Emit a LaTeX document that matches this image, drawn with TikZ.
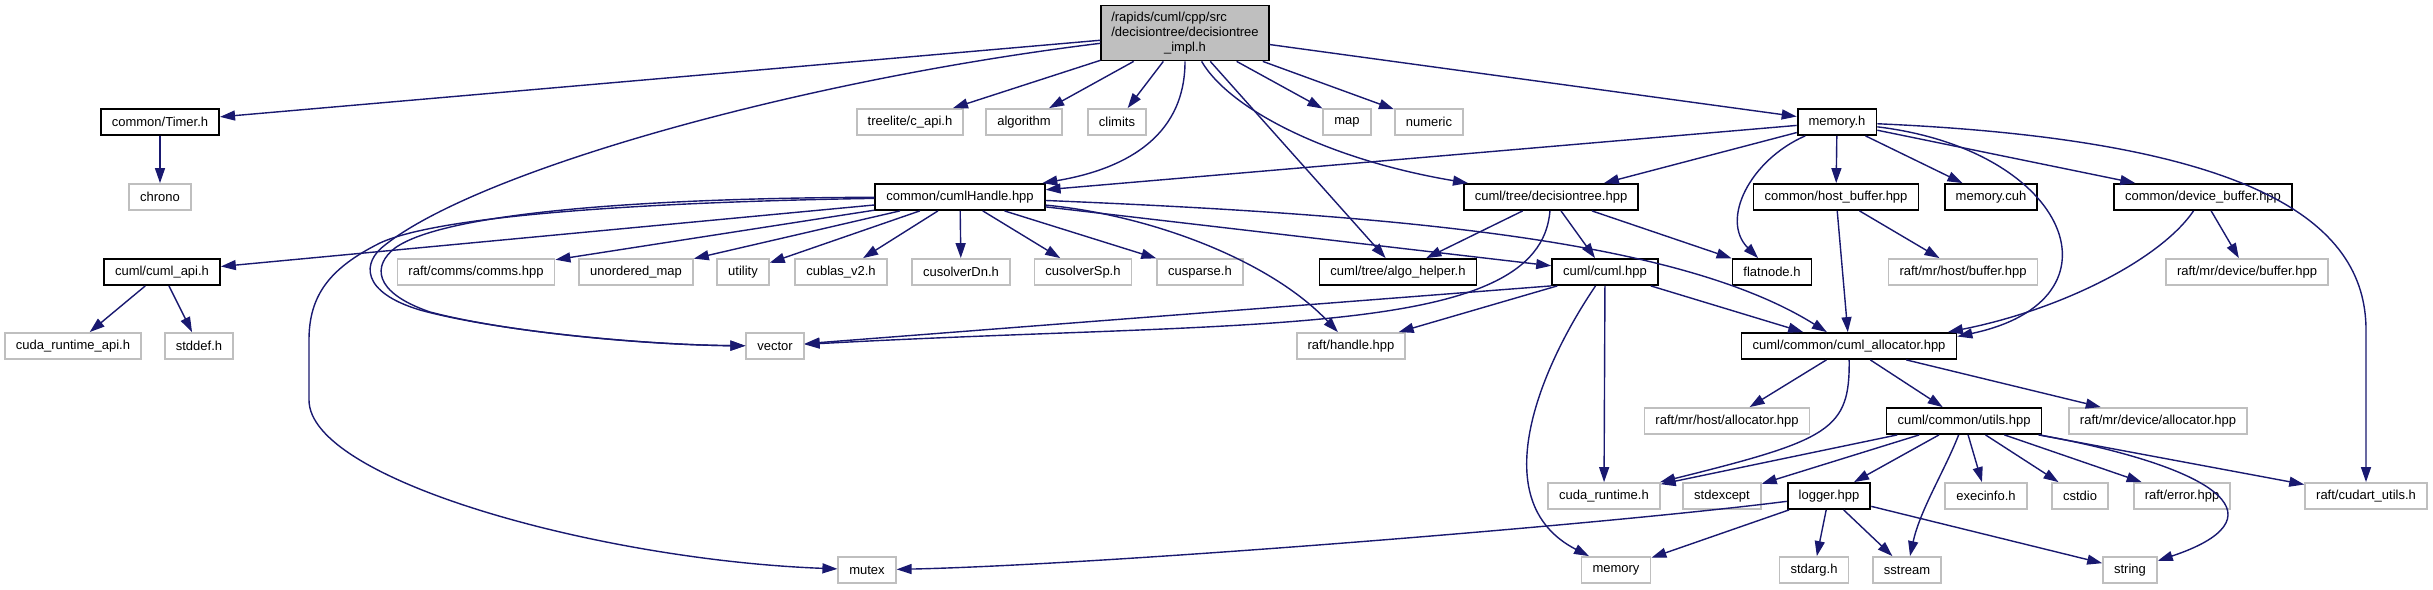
\documentclass[tikz,border=0pt]{standalone}
\usepackage{fontspec}
\setmainfont{Liberation Sans}
\usetikzlibrary{arrows.meta}
\definecolor{EdgeBlue}{RGB}{25,25,112}
\definecolor{ExtGray}{RGB}{191,191,191}

\begin{document}
\begin{tikzpicture}[
    x=1pt,
    y=-1pt,
    font=\fontsize{13}{15}\selectfont,
    hdr/.style={
        draw=black,
        line width=1.8pt,
        minimum height=26pt,
        inner xsep=11pt,
        inner ysep=0pt
    },
    ext/.style={
        draw=ExtGray,
        line width=1.8pt,
        minimum height=26pt,
        inner xsep=11pt,
        inner ysep=0pt
    },
    mainfile/.style={
        draw=black,
        line width=1.8pt,
        minimum height=55pt,
        inner xsep=10pt,
        inner ysep=0pt,
        fill=ExtGray
    },
    dep/.style={
        draw=EdgeBlue,
        line width=1.4pt,
        -{Triangle[length=15pt,width=10pt]}
    }
]

\fill[white] (0,0) rectangle (2433,589);
\useasboundingbox (0,0) rectangle (2433,589);

\node[mainfile] (root) at (1185,33) {\begin{tabular}{@{}l@{}}/rapids/cuml/cpp/src\\/decisiontree/decisiontree\\\multicolumn{1}{@{}c@{}}{\_impl.h}\end{tabular}};

\node[hdr] (timer) at (160,122) {common/Timer.h};
\node[ext] (capi) at (910,122) {treelite/c\_api.h};
\node[ext] (algorithm) at (1024,122) {algorithm};
\node[ext] (climits) at (1117,122) {climits};
\node[ext] (map) at (1347,122) {map};
\node[ext] (numeric) at (1429,122) {numeric};
\node[hdr] (memh) at (1837,122) {memory.h};

\node[ext] (chrono) at (160,197) {chrono};
\node[hdr] (handle) at (960,197) {common/cumlHandle.hpp};
\node[hdr] (dtree) at (1551,197) {cuml/tree/decisiontree.hpp};
\node[hdr] (hostbuf) at (1836,197) {common/host\_buffer.hpp};
\node[hdr] (memcuh) at (1991,197) {memory.cuh};
\node[hdr] (devbuf) at (2203,197) {common/device\_buffer.hpp};

\node[hdr] (cumlapi) at (162,272) {cuml/cuml\_api.h};
\node[ext] (comms) at (476,272) {raft/comms/comms.hpp};
\node[ext] (umap) at (636,272) {unordered\_map};
\node[ext] (utility) at (743,272) {utility};
\node[ext] (cublas) at (841,272) {cublas\_v2.h};
\node[ext] (solverdn) at (961,272) {cusolverDn.h};
\node[ext] (solversp) at (1083,272) {cusolverSp.h};
\node[ext] (sparse) at (1200,272) {cusparse.h};
\node[hdr] (algoh) at (1398,272) {cuml/tree/algo\_helper.h};
\node[hdr] (cumlhpp) at (1605,272) {cuml/cuml.hpp};
\node[hdr] (flatnode) at (1772,272) {flatnode.h};
\node[ext] (hostmr) at (1963,272) {raft/mr/host/buffer.hpp};
\node[ext] (devmr) at (2247,272) {raft/mr/device/buffer.hpp};

\node[ext] (rtapi) at (73,346) {cuda\_runtime\_api.h};
\node[ext] (stddef) at (199,346) {stddef.h};
\node[ext] (vector) at (775,346) {vector};
\node[ext] (rafthandle) at (1351,346) {raft/handle.hpp};
\node[hdr] (alloc) at (1849,346) {cuml/common/cuml\_allocator.hpp};

\node[ext] (hostalloc) at (1727,421) {raft/mr/host/allocator.hpp};
\node[hdr] (utils) at (1964,421) {cuml/common/utils.hpp};
\node[ext] (devalloc) at (2158,421) {raft/mr/device/allocator.hpp};

\node[ext] (cudart) at (1604,496) {cuda\_runtime.h};
\node[ext] (stdexcept) at (1722,496) {stdexcept};
\node[hdr] (logger) at (1829,496) {logger.hpp};
\node[ext] (execinfo) at (1986,496) {execinfo.h};
\node[ext] (cstdio) at (2080,496) {cstdio};
\node[ext] (rafterr) at (2182,496) {raft/error.hpp};
\node[ext] (cudautil) at (2366,496) {raft/cudart\_utils.h};

\node[ext] (mutex) at (867,570) {mutex};
\node[ext] (memory) at (1616,570) {memory};
\node[ext] (stdarg) at (1814,570) {stdarg.h};
\node[ext] (sstream) at (1907,570) {sstream};
\node[ext] (string) at (2130,570) {string};

\draw[dep] (root) -- (timer);
\draw[dep] (root) -- (capi);
\draw[dep] (root) -- (algorithm);
\draw[dep] (root) -- (climits);
\draw[dep] (root) -- (algoh);
\draw[dep] (root) -- (map);
\draw[dep] (root) -- (numeric);
\draw[dep] (root) -- (memh);
\draw[dep] (root) .. controls (1185,140) and (1120,170) .. (handle);
\draw[dep] (root) .. controls (1230,110) and (1330,160) .. (dtree);
\draw[dep] (root) .. controls (800,80) and (480,170) .. (385,245) .. controls (362,262) and (360,292) .. (420,310) .. controls (500,332) and (650,345) .. (vector);

\draw[dep] (timer) -- (chrono);

\draw[dep] (handle) -- (cumlapi);
\draw[dep] (handle) -- (comms);
\draw[dep] (handle) -- (umap);
\draw[dep] (handle) -- (utility);
\draw[dep] (handle) -- (cublas);
\draw[dep] (handle) -- (solverdn);
\draw[dep] (handle) -- (solversp);
\draw[dep] (handle) -- (sparse);
\draw[dep] (handle) -- (cumlhpp);
\draw[dep] (handle) .. controls (1150,215) and (1270,260) .. (rafthandle);
\draw[dep] (handle) .. controls (1400,215) and (1680,240) .. (alloc);
\draw[dep] (handle) .. controls (650,198) and (445,212) .. (395,248) .. controls (373,265) and (372,292) .. (430,312) .. controls (510,333) and (650,345) .. (vector);
\draw[dep] (handle) .. controls (650,202) and (440,215) .. (380,243) .. controls (330,268) and (309,295) .. (309,340) -- (309,400) .. controls (309,480) and (600,560) .. (mutex);

\draw[dep] (memh) -- (handle);
\draw[dep] (memh) -- (dtree);
\draw[dep] (memh) -- (hostbuf);
\draw[dep] (memh) -- (memcuh);
\draw[dep] (memh) -- (devbuf);
\draw[dep] (memh) .. controls (1750,160) and (1720,220) .. (flatnode);
\draw[dep] (memh) .. controls (2070,150) and (2130,300) .. (alloc.5);
\draw[dep] (memh) .. controls (2250,140) and (2366,220) .. (2366,330) -- (cudautil);

\draw[dep] (dtree) -- (algoh);
\draw[dep] (dtree) -- (cumlhpp);
\draw[dep] (dtree) -- (flatnode);
\draw[dep] (dtree) .. controls (1540,340) and (1250,320) .. (vector);

\draw[dep] (hostbuf) -- (alloc);
\draw[dep] (hostbuf) -- (hostmr);
\draw[dep] (devbuf) -- (devmr);
\draw[dep] (devbuf) .. controls (2160,260) and (2060,310) .. (alloc.8);

\draw[dep] (cumlapi) -- (rtapi);
\draw[dep] (cumlapi) -- (stddef);

\draw[dep] (cumlhpp.south west) -- (vector);
\draw[dep] (cumlhpp) -- (rafthandle);
\draw[dep] (cumlhpp) -- (cudart);
\draw[dep] (cumlhpp) -- (alloc);
\draw[dep] (cumlhpp) .. controls (1545,360) and (1480,500) .. (memory);

\draw[dep] (alloc) -- (hostalloc);
\draw[dep] (alloc) -- (utils);
\draw[dep] (alloc) -- (devalloc);
\draw[dep] (alloc) .. controls (1850,430) and (1830,440) .. (cudart);

\draw[dep] (utils) -- (cudart);
\draw[dep] (utils) -- (stdexcept);
\draw[dep] (utils) -- (logger);
\draw[dep] (utils) -- (execinfo);
\draw[dep] (utils) -- (cstdio);
\draw[dep] (utils) -- (rafterr);
\draw[dep] (utils) -- (cudautil);
\draw[dep] (utils) .. controls (1945,470) and (1920,510) .. (sstream);
\draw[dep] (utils) .. controls (2230,470) and (2280,520) .. (string);

\draw[dep] (logger) -- (memory);
\draw[dep] (logger) -- (stdarg);
\draw[dep] (logger) -- (sstream);
\draw[dep] (logger) -- (string);
\draw[dep] (logger) .. controls (1600,525) and (1100,565) .. (mutex);

\end{tikzpicture}
\end{document}
